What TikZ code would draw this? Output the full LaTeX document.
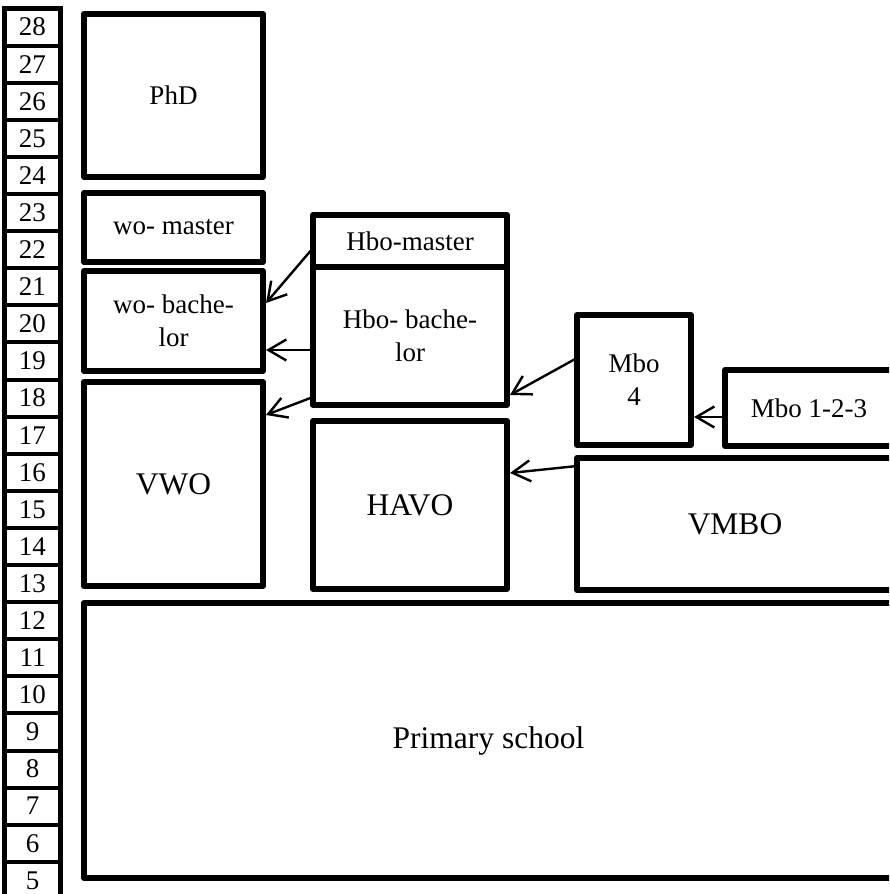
\documentclass[tikz,border=0pt]{standalone}
\usepackage{fontspec}
\setmainfont{Liberation Serif}
\usetikzlibrary{arrows.meta}

\tikzset{
  box/.style={draw, line width=6pt, line join=round, inner sep=0pt, outer sep=0pt,
    align=center, font=\fontsize{27}{33}\selectfont},
  bigbox/.style={box, font=\fontsize{31.5}{36}\selectfont},
  conn/.style={-{Straight Barb[length=18pt,width=21pt]}, line width=2.4pt},
  agerule/.style={line width=4pt},
  agenum/.style={inner sep=0pt, font=\fontsize{27}{33}\selectfont}
}

\begin{document}
\begin{tikzpicture}[x=1pt,y=-1pt]
\useasboundingbox (0,0) rectangle (889,894);
\clip (0,0) rectangle (889,894);

% age column
\draw[line width=5pt] (4.5,900) -- (4.5,8.5) -- (60.5,8.5) -- (60.5,900);
\foreach \k [evaluate=\k as \ty using 8.5+37.1*\k, evaluate=\k as \age using int(28-\k)] in {0,...,23} {
  \draw[agerule] (4.5,\ty) -- (60.5,\ty);
  \node[agenum] (age\age) at (32.5,\ty+18.55) {\age};
}

% university track
\node[box, minimum width=179pt, minimum height=163pt] (phd) at (173.5,95.5) {PhD};
\node[box, minimum width=179pt, minimum height=69pt] (womaster) at (173.5,227.5) {wo- master};
\node[box, minimum width=179pt, minimum height=100pt] (wobach) at (173.5,321) {wo- bache-\\lor};
\node[bigbox, minimum width=179pt, minimum height=204pt] (vwo) at (173.5,484) {VWO};

% hbo track
\node[box, minimum width=194pt, minimum height=52pt] (hbomaster) at (410,241) {Hbo-master};
\node[box, minimum width=194pt, minimum height=138pt] (hbobach) at (410,336) {Hbo- bache-\\lor};
\node[bigbox, minimum width=194pt, minimum height=168pt] (havo) at (410,505) {HAVO};

% mbo track
\node[box, minimum width=114pt, minimum height=130pt] (mbofour) at (634,380) {Mbo\\4};
\node[box, minimum width=168pt, minimum height=76pt] (mbolow) at (809,408) {Mbo 1-2-3};
\node[bigbox, minimum width=316pt, minimum height=132pt] (vmbo) at (735,524) {VMBO};

\node[bigbox, minimum width=809pt, minimum height=275pt] (primary) at (488.5,740.5) {Primary school};

% transfers
\draw[conn] ([yshift=-7pt]hbomaster.west) -- ([xshift=3pt,yshift=18pt]wobach.east);
\draw[conn] ([yshift=-14pt]hbobach.west) -- ([xshift=3pt,yshift=-29pt]wobach.east);
\draw[conn] ([yshift=-61pt]hbobach.west) -- ([xshift=3pt,yshift=69pt]vwo.east);
\draw[conn] ([yshift=22pt]mbofour.west) -- ([xshift=3pt,yshift=-59pt]hbobach.east);
\draw[conn] ([yshift=-9pt]mbolow.west) -- ([xshift=3pt,yshift=-37pt]mbofour.east);
\draw[conn] ([yshift=58pt]vmbo.west) -- ([xshift=3pt,yshift=32pt]havo.east);
\end{tikzpicture}
\end{document}
